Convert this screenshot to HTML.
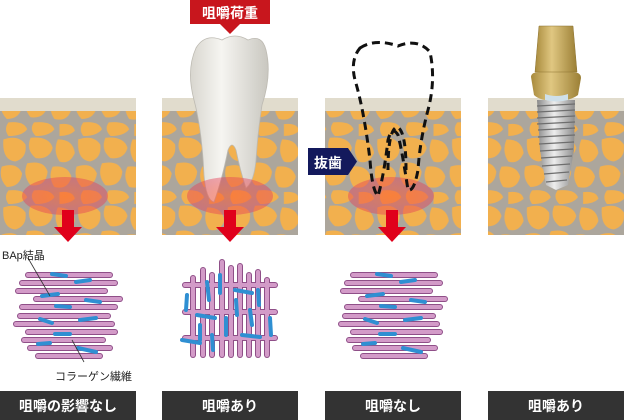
<!DOCTYPE html>
<html><head><meta charset="utf-8"><style>
html,body{margin:0;padding:0;background:#fff;}
svg{display:block;}
text{font-family:"Liberation Sans","Noto Sans CJK JP",sans-serif;}
</style></head><body>
<svg width="624" height="420" viewBox="0 0 624 420" xmlns="http://www.w3.org/2000/svg">
<defs>
<pattern id="bone" width="44" height="40" patternUnits="userSpaceOnUse" patternTransform="scale(1.7)">
<rect width="44" height="40" fill="#aca69c"/>
<g fill="#f2b04e">
<path d="M2 2 Q11 -1 15 5 Q16 13 9 15 Q1 14 2 2Z"/>
<path d="M18 1 Q29 0 31 7 Q29 14 21 13 Q15 8 18 1Z"/>
<path d="M34 2 Q43 2 44 10 Q41 17 35 15 Q31 9 34 2Z"/>
<path d="M1 18 Q10 15 13 22 Q12 30 4 30 Q-1 25 1 18Z"/>
<path d="M16 16 Q26 14 28 21 Q27 30 18 29 Q13 23 16 16Z"/>
<path d="M31 18 Q40 17 42 24 Q40 32 32 30 Q28 24 31 18Z"/>
<path d="M5 32 Q14 31 16 36 Q13 40 5 40 Q2 36 5 32Z"/>
<path d="M20 32 Q30 31 32 36 Q29 40 21 40 Q17 36 20 32Z"/>
<path d="M35 33 Q43 32 44 37 Q41 40 35 40Z"/>
</g>
</pattern>
<radialGradient id="hot"><stop offset="0" stop-color="#ff5a2a" stop-opacity=".55"/><stop offset="1" stop-color="#e4405a" stop-opacity=".45"/></radialGradient>
<linearGradient id="tooth" x1="0" x2="1"><stop offset="0" stop-color="#d8d6cf"/><stop offset=".4" stop-color="#f6f5f1"/><stop offset="1" stop-color="#c9c7c0"/></linearGradient>
<linearGradient id="gold" x1="0" x2="1"><stop offset="0" stop-color="#a88a3c"/><stop offset=".4" stop-color="#e0c781"/><stop offset="1" stop-color="#9b7f35"/></linearGradient>
<linearGradient id="screw" x1="0" x2="1"><stop offset="0" stop-color="#8a8a8a"/><stop offset=".45" stop-color="#eeeeee"/><stop offset="1" stop-color="#8c8c8c"/></linearGradient>
<g id="arrow"><rect x="-6" y="0" width="12" height="18" fill="#e0001b"/><path d="M-14 17 L14 17 L0 32Z" fill="#e0001b"/></g>
<g id="hl">
<line x1="28" y1="275" x2="110" y2="275"/><line x1="22" y1="283" x2="115" y2="283"/><line x1="18" y1="291" x2="105" y2="291"/>
<line x1="36" y1="299" x2="120" y2="299"/><line x1="22" y1="307" x2="115" y2="307"/><line x1="20" y1="316" x2="108" y2="316"/>
<line x1="16" y1="324" x2="112" y2="324"/><line x1="28" y1="332" x2="115" y2="332"/><line x1="24" y1="340" x2="103" y2="340"/>
<line x1="30" y1="348" x2="110" y2="348"/><line x1="38" y1="356" x2="100" y2="356"/>
</g>
<g id="fibH" stroke-linecap="round">
<use href="#hl" stroke="#8f4f88" stroke-width="6"/>
<use href="#hl" stroke="#d39bc8" stroke-width="4"/>
<g stroke="#2f8fd2" stroke-width="4">
<line x1="52" y1="274" x2="66" y2="276"/><line x1="76" y1="282" x2="90" y2="280"/><line x1="42" y1="296" x2="58" y2="294"/>
<line x1="86" y1="300" x2="100" y2="302"/><line x1="56" y1="306" x2="70" y2="307"/><line x1="40" y1="319" x2="52" y2="323"/>
<line x1="80" y1="320" x2="96" y2="318"/><line x1="55" y1="334" x2="70" y2="334"/><line x1="38" y1="344" x2="50" y2="343"/><line x1="78" y1="348" x2="96" y2="352"/>
</g></g>
<g id="gl">
<line x1="185" y1="285" x2="275" y2="285"/><line x1="185" y1="312" x2="275" y2="312"/><line x1="185" y1="338" x2="275" y2="338"/>
<line x1="193" y1="278" x2="193" y2="355"/><line x1="203" y1="270" x2="203" y2="355"/><line x1="212" y1="275" x2="212" y2="355"/><line x1="222" y1="262" x2="222" y2="355"/><line x1="231" y1="268" x2="231" y2="355"/><line x1="240" y1="266" x2="240" y2="355"/><line x1="249" y1="275" x2="249" y2="355"/><line x1="258" y1="272" x2="258" y2="355"/><line x1="267" y1="280" x2="267" y2="355"/>
</g>
</defs>

<g>
<rect x="0" y="98" width="136" height="137" fill="url(#bone)"/><rect x="0" y="98" width="136" height="13" fill="#e1dccd"/>
<rect x="162" y="98" width="136" height="137" fill="url(#bone)"/><rect x="162" y="98" width="136" height="13" fill="#e1dccd"/>
<rect x="325" y="98" width="136" height="137" fill="url(#bone)"/><rect x="325" y="98" width="136" height="13" fill="#e1dccd"/>
<rect x="488" y="98" width="136" height="137" fill="url(#bone)"/><rect x="488" y="98" width="136" height="13" fill="#e1dccd"/>
</g>

<path d="M196 48 Q205 33 222 40 Q235 32 248 40 Q262 34 266 50 Q272 75 262 105 Q258 130 256 160 Q254 182 246 188 Q240 170 236 150 Q232 140 228 150 Q222 180 214 202 Q206 200 204 175 Q202 130 194 100 Q186 70 196 48Z" fill="url(#tooth)" stroke="#bdbab2" stroke-width=".8"/>

<ellipse cx="65" cy="196" rx="43" ry="19" fill="url(#hot)"/>
<ellipse cx="230" cy="196" rx="43" ry="19" fill="url(#hot)"/>
<ellipse cx="391" cy="196" rx="43" ry="19" fill="url(#hot)"/>

<path d="M360 48 Q375 38 398 46 Q418 38 430 52 Q436 80 428 110 Q420 140 418 170 Q414 192 408 190 Q402 150 398 135 Q392 125 388 140 Q384 175 378 196 Q372 190 370 160 Q364 110 355 80 Q350 60 360 48Z" fill="none" stroke="#111" stroke-width="3" stroke-dasharray="8 5"/>
<path d="M388 170 Q388 130 397 127 Q406 130 406 170" fill="none" stroke="#111" stroke-width="3" stroke-dasharray="7 5"/>
<path d="M308 148 L348 148 L357 161.5 L348 175 L308 175Z" fill="#13195c"/>
<text x="328" y="168" font-size="14" font-weight="bold" fill="#fff" text-anchor="middle">抜歯</text>

<use href="#arrow" x="68" y="210"/>
<use href="#arrow" x="230" y="210"/>
<use href="#arrow" x="392" y="210"/>

<path d="M190 0 L270 0 L270 24 L240 24 L230 34 L220 24 L190 24Z" fill="#c8161d"/>
<text x="230" y="18" font-size="14" font-weight="bold" fill="#fff" text-anchor="middle">咀嚼荷重</text>

<path d="M537 100 L575 100 L574 150 L568 185 L556 190 L546 185 L540 150Z" fill="url(#screw)"/>
<g stroke="#6e6e6e" stroke-width="1.2">
<line x1="537" y1="106" x2="575" y2="104"/><line x1="537" y1="112" x2="575" y2="110"/><line x1="537" y1="118" x2="575" y2="116"/><line x1="537" y1="124" x2="575" y2="122"/><line x1="538" y1="130" x2="575" y2="128"/><line x1="538" y1="137" x2="575" y2="135"/><line x1="539" y1="144" x2="574" y2="142"/><line x1="540" y1="151" x2="573" y2="149"/><line x1="541" y1="158" x2="572" y2="156"/><line x1="542" y1="166" x2="570" y2="164"/><line x1="544" y1="174" x2="569" y2="172"/><line x1="546" y1="182" x2="567" y2="180"/>
</g>
<path d="M531 77 Q531 72 540 72 L572 72 Q581 72 581 78 L578 95 Q570 101 556 101 Q540 101 534 95Z" fill="url(#gold)"/>
<path d="M545 94 Q556 98 568 94 L568 100 Q556 103 545 100Z" fill="#cfe0ea"/>
<path d="M539 26 L573 26 L577 72 L535 72Z" fill="url(#gold)" stroke="#8c7230" stroke-width=".5"/>

<use href="#fibH"/>
<use href="#fibH" x="325"/>
<line x1="28" y1="258" x2="50" y2="296" stroke="#333" stroke-width=".8"/>
<line x1="72" y1="340" x2="84" y2="362" stroke="#333" stroke-width=".8"/>
<text x="2" y="259" font-size="11" fill="#222">BAp結晶</text>
<text x="55" y="380" font-size="11" fill="#222">コラーゲン繊維</text>

<g stroke-linecap="round">
<use href="#gl" stroke="#8f4f88" stroke-width="6"/>
<use href="#gl" stroke="#d39bc8" stroke-width="4"/>
</g>
<g stroke-linecap="round" stroke="#2f8fd2" stroke-width="4">
<line x1="207" y1="282" x2="209" y2="300"/><line x1="220" y1="275" x2="220" y2="293"/><line x1="235" y1="290" x2="252" y2="293"/><line x1="187" y1="295" x2="186" y2="310"/><line x1="197" y1="315" x2="215" y2="318"/><line x1="236" y1="300" x2="237" y2="315"/><line x1="258" y1="290" x2="259" y2="305"/><line x1="250" y1="310" x2="252" y2="325"/><line x1="200" y1="325" x2="200" y2="340"/><line x1="226" y1="318" x2="226" y2="335"/><line x1="182" y1="340" x2="200" y2="343"/><line x1="242" y1="335" x2="260" y2="337"/><line x1="270" y1="318" x2="271" y2="335"/><line x1="212" y1="335" x2="213" y2="350"/>
</g>

<rect x="0" y="391" width="136" height="29" fill="#333"/>
<rect x="162" y="391" width="136" height="29" fill="#333"/>
<rect x="325" y="391" width="136" height="29" fill="#333"/>
<rect x="488" y="391" width="136" height="29" fill="#333"/>
<g font-size="14" font-weight="bold" fill="#fff" text-anchor="middle">
<text x="68" y="411">咀嚼の影響なし</text>
<text x="230" y="411">咀嚼あり</text>
<text x="393" y="411">咀嚼なし</text>
<text x="556" y="411">咀嚼あり</text>
</g>
</svg>
</body></html>
